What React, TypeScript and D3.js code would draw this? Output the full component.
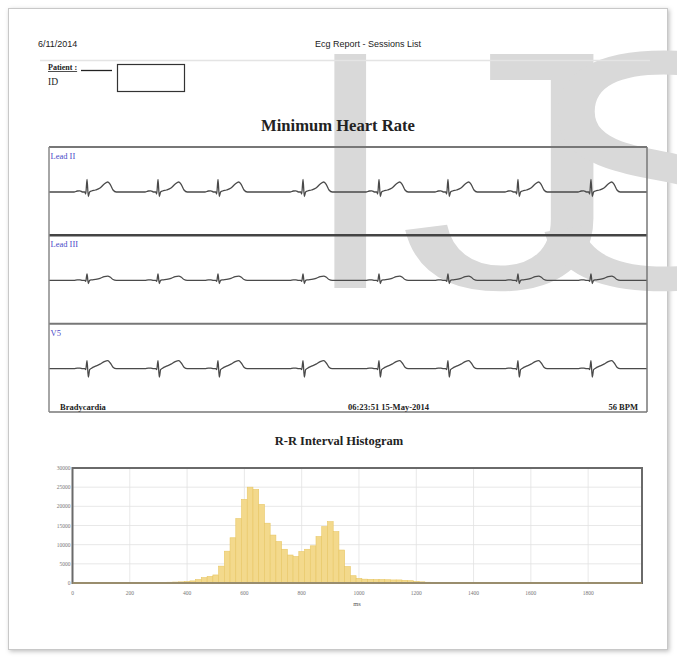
import React from "react";
import * as d3 from "d3";

// ---------- DATA ----------
const headerDate = "6/11/2014";
const headerTitle = "Ecg Report - Sessions List";
const patientLabel = "Patient :";
const idLabel = "ID";
const ecgTitle = "Minimum Heart Rate";
const histTitle = "R-R Interval Histogram";
const eventLabel = "Bradycardia";
const eventTime = "06:23:51 15-May-2014";
const eventRate = "56 BPM";
const watermarkLetters = ["I", "J", "S"];

const leadNames = ["Lead II", "Lead III", "V5"];
// R-peak times (ms) within the 9.2 s strip
const beatTimesMs = [585, 1677, 2600, 3908, 5077, 6138, 7215, 8338];
const ecgDurationMs = 9200;
// beat template: offsets from the R peak (ms)
const beatOffsetsMs = [-200, -150, -110, -70, -35, -20, 0, 20, 40, 70, 130, 200, 265, 320, 360, 400, 450, 500];
// amplitudes (mV) at those offsets, per lead
const leadIIAmp = [0, 0.1, 0.12, 0, 0, -0.2, 1.25, -0.45, 0, 0.1, 0.2, 0.4, 0.8, 1.0, 0.72, 0.2, 0, 0];
const leadIIIAmp = [0, 0.05, 0.05, 0, 0, -0.1, 0.65, -0.32, 0, 0.05, 0.1, 0.2, 0.38, 0.43, 0.3, 0.08, 0, 0];
const v5Amp = [0, 0.05, 0.05, 0, 0, -0.1, 0.8, -0.85, -0.1, 0.05, 0.25, 0.45, 0.7, 0.8, 0.55, 0.15, 0, 0];
const leadAmps = [leadIIAmp, leadIIIAmp, v5Amp];

// R-R interval histogram: bin centres (ms) and counts
const rrBins = [
  0, 20, 40, 60, 80, 100, 120, 140, 160, 180, 200, 220, 240, 260, 280, 300, 320, 340, 360, 380,
  400, 420, 440, 460, 480, 500, 520, 540, 560, 580, 600, 620, 640, 660, 680, 700, 720, 740, 760, 780,
  800, 820, 840, 860, 880, 900, 920, 940, 960, 980, 1000, 1020, 1040, 1060, 1080, 1100, 1120, 1140, 1160, 1180,
  1200, 1220, 1240, 1260, 1280, 1300, 1320, 1340, 1360, 1380, 1400, 1420, 1440, 1460, 1480, 1500, 1520, 1540, 1560, 1580,
  1600, 1620, 1640, 1660, 1680, 1700, 1720, 1740, 1760, 1780, 1800, 1820, 1840, 1860, 1880, 1900, 1920, 1940, 1960, 1980,
];
const rrCounts = [
  180, 160, 150, 170, 150, 160, 150, 140, 160, 150, 170, 150, 160, 150, 170, 160, 180, 200, 250, 300,
  400, 550, 900, 1400, 1700, 2100, 4400, 8300, 11800, 16800, 21800, 25000, 24400, 20500, 15600, 12500, 10800, 8800, 7300, 6900,
  8200, 8800, 9700, 12100, 14700, 16000, 13400, 8600, 4300, 1900, 1200, 1000, 950, 900, 900, 850, 800, 800, 700, 600,
  400, 300, 200, 180, 170, 160, 160, 150, 150, 150, 150, 140, 150, 150, 140, 150, 150, 140, 150, 140,
  150, 140, 150, 140, 150, 140, 140, 150, 140, 140, 150, 140, 140, 150, 140, 140, 150, 140, 140, 150,
];
const rrXTicks = [0, 200, 400, 600, 800, 1000, 1200, 1400, 1600, 1800];
const rrYTicks = [0, 5000, 10000, 15000, 20000, 25000, 30000];
const rrXLabel = "ms";

// ---------- COMPONENT ----------
const SERIF = "'Liberation Serif', 'Times New Roman', serif";
const SANS = "'Liberation Sans Narrow', 'Liberation Sans', Arial, sans-serif";

export default function App() {
  const W = 677;
  const H = 658;

  // ECG frame
  const ecgLeft = 49;
  const ecgRight = 647;
  const ecgTop = 147;
  const ecgBottom = 412;
  const rowH = (ecgBottom - ecgTop) / 3;
  const xEcg = d3.scaleLinear().domain([0, ecgDurationMs]).range([ecgLeft, ecgRight]);

  const buildLead = (amps: number[]) => {
    const pts: [number, number][] = [[0, 0]];
    beatTimesMs.forEach((t) => {
      beatOffsetsMs.forEach((o, i) => pts.push([t + o, amps[i]]));
    });
    pts.push([ecgDurationMs, 0]);
    return pts;
  };

  // Histogram
  const hLeft = 72.5;
  const hRight = 642;
  const hTop = 468;
  const hBottom = 583;
  const xH = d3.scaleLinear().domain([0, 1988]).range([hLeft, hRight]);
  const yH = d3.scaleLinear().domain([0, 30000]).range([hBottom, hTop]);
  const binW = xH(20) - xH(0);

  // watermark letter placement (x, horizontal stretch)
  const wmPos = [
    { x: 303, sx: 1 },
    { x: 398, sx: 1.35 },
    { x: 526, sx: 1.2 },
  ];

  return (
    <svg
      width={W}
      height={H}
      style={{ position: "absolute", left: 0, top: 0, display: "block", background: "#fff" }}
    >
      <defs>
        <filter id="shadow" x="-5%" y="-5%" width="110%" height="110%">
          <feDropShadow dx="1.5" dy="1.5" stdDeviation="2" floodColor="#000" floodOpacity="0.25" />
        </filter>
        <clipPath id="hclip">
          <rect x={hLeft} y={hTop} width={hRight - hLeft} height={hBottom - hTop} />
        </clipPath>
      </defs>

      {/* page */}
      <rect x={8.5} y={8.5} width={659} height={641} fill="#fff" stroke="#c8c8c8" filter="url(#shadow)" />

      {/* watermark */}
      <g>
        {watermarkLetters.map((l, i) => (
          <text
            key={l}
            transform={`translate(${wmPos[i].x},288) scale(${wmPos[i].sx},1)`}
            fontFamily="'Liberation Sans', Arial, sans-serif"
            fontSize={340}
            fill="#d9d9d9"
          >
            {l}
          </text>
        ))}
      </g>

      {/* header */}
      <text x={38} y={47} fontFamily={SANS} fontSize={9} fill="#222">{headerDate}</text>
      <text x={368} y={47} textAnchor="middle" fontFamily={SANS} fontSize={9} fill="#222">{headerTitle}</text>
      <line x1={40} x2={650} y1={60.5} y2={60.5} stroke="#e4e4e4" strokeWidth={1.5} />
      <text x={48} y={70} fontFamily={SERIF} fontSize={8} fontWeight="bold" textDecoration="underline" fill="#222">
        {patientLabel}
      </text>
      <line x1={81} x2={112} y1={70.5} y2={70.5} stroke="#222" strokeWidth={1.3} />
      <text x={48} y={85} fontFamily={SERIF} fontSize={9.5} fill="#222">{idLabel}</text>
      <rect x={117.5} y={64.5} width={67} height={27} fill="none" stroke="#333" strokeWidth={1.2} />

      {/* ECG title */}
      <text x={338} y={131} textAnchor="middle" fontFamily={SERIF} fontSize={16.6} fontWeight="bold" fill="#222">
        {ecgTitle}
      </text>

      {/* ECG leads */}
      {leadNames.map((name, li) => {
        const top = ecgTop + li * rowH;
        const base = top + 45;
        const yL = d3.scaleLinear().domain([-1.5, 1.5]).range([base + 15, base - 15]);
        const line = d3
          .line<[number, number]>()
          .x((d) => xEcg(d[0]))
          .y((d) => yL(d[1]))
          .curve(d3.curveMonotoneX);
        return (
          <g key={name}>
            <text x={ecgLeft + 1.5} y={top + 12} fontFamily={SERIF} fontSize={8.5} fill="#4a4ac8">
              {name}
            </text>
            <path d={line(buildLead(leadAmps[li])) || ""} fill="none" stroke="#4a4a4a" strokeWidth={1.3} />
          </g>
        );
      })}
      {/* ECG frame lines */}
      <line x1={ecgLeft} x2={ecgRight} y1={ecgTop} y2={ecgTop} stroke="#777" strokeWidth={2} />
      <line x1={ecgLeft} x2={ecgRight} y1={ecgTop + rowH} y2={ecgTop + rowH} stroke="#444" strokeWidth={2.5} />
      <line x1={ecgLeft} x2={ecgRight} y1={ecgTop + 2 * rowH} y2={ecgTop + 2 * rowH} stroke="#777" strokeWidth={2} />
      <line x1={ecgLeft} x2={ecgRight} y1={ecgBottom} y2={ecgBottom} stroke="#777" strokeWidth={1.5} />
      <line x1={ecgLeft} x2={ecgLeft} y1={ecgTop} y2={ecgBottom} stroke="#888" strokeWidth={1.5} />
      <line x1={ecgRight} x2={ecgRight} y1={ecgTop} y2={ecgBottom} stroke="#777" strokeWidth={1.5} />
      <text x={60} y={410} fontFamily={SERIF} fontSize={8.5} fontWeight="bold" fill="#222">{eventLabel}</text>
      <text x={348} y={410} fontFamily={SERIF} fontSize={8.5} fontWeight="bold" fill="#222">{eventTime}</text>
      <text x={638} y={410} textAnchor="end" fontFamily={SERIF} fontSize={8.5} fontWeight="bold" fill="#222">
        {eventRate}
      </text>

      {/* Histogram title */}
      <text x={339} y={445} textAnchor="middle" fontFamily={SERIF} fontSize={12.5} fontWeight="bold" fill="#222">
        {histTitle}
      </text>

      {/* grid */}
      {rrYTicks.map((t) => (
        <line key={"gy" + t} x1={hLeft} x2={hRight} y1={yH(t)} y2={yH(t)} stroke="#e2e2e2" strokeWidth={0.8} />
      ))}
      {rrXTicks.map((t) => (
        <line key={"gx" + t} x1={xH(t)} x2={xH(t)} y1={hTop} y2={hBottom} stroke="#e2e2e2" strokeWidth={0.8} />
      ))}

      {/* bars */}
      <g clipPath="url(#hclip)">
        {rrBins.map((b, i) => (
          <rect
            key={"b" + b}
            x={xH(b) - binW / 2}
            y={yH(rrCounts[i])}
            width={binW}
            height={hBottom - yH(rrCounts[i])}
            fill="#f3d98c"
            stroke="#e8c765"
            strokeWidth={0.6}
          />
        ))}
      </g>

      {/* axis frame */}
      <rect x={hLeft} y={hTop} width={hRight - hLeft} height={hBottom - hTop} fill="none" stroke="#6a6a6a" strokeWidth={2} />
      <line x1={hLeft} x2={hRight} y1={hBottom} y2={hBottom} stroke="#c9b070" strokeWidth={1} />

      {/* tick labels */}
      {rrYTicks.map((t) => (
        <text key={"ly" + t} x={hLeft - 2} y={yH(t) + 2} textAnchor="end" fontFamily={SERIF} fontSize={5.5} fill="#777">
          {t}
        </text>
      ))}
      {rrXTicks.map((t) => (
        <text key={"lx" + t} x={xH(t)} y={595} textAnchor="middle" fontFamily={SERIF} fontSize={5.5} fill="#777">
          {t}
        </text>
      ))}
      <text x={357} y={606} textAnchor="middle" fontFamily={SERIF} fontSize={6.5} fill="#555">{rrXLabel}</text>
    </svg>
  );
}
